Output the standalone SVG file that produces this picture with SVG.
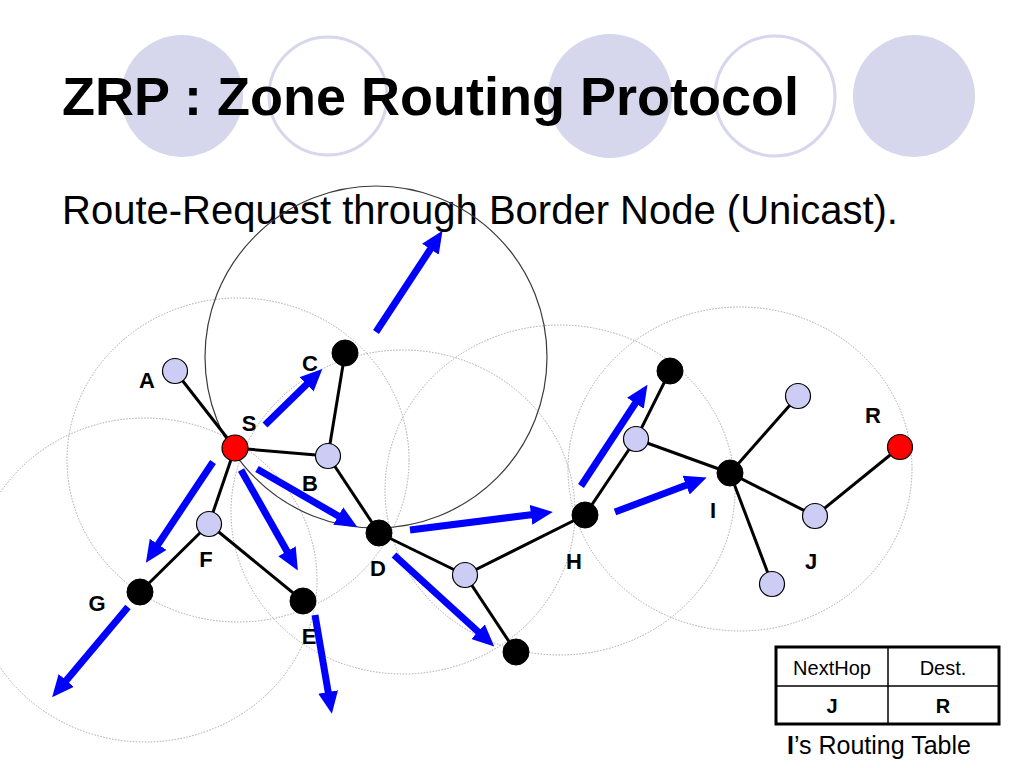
<svg xmlns="http://www.w3.org/2000/svg" width="1024" height="768" viewBox="0 0 1024 768">
<defs>
<style>
.deco-f{fill:#d6d6ec;stroke:none}
.deco-o{fill:none;stroke:#d6d6ec;stroke-width:3}
.title{font-family:"Liberation Sans",Arial,sans-serif;font-weight:bold;font-size:54px;fill:#000}
.sub{font-family:"Liberation Sans",Arial,sans-serif;font-size:40px;fill:#000}
.zone{fill:none;stroke:#a8a8a8;stroke-width:1;stroke-dasharray:1.5 1.5}
.zone-on{fill:none;stroke:#3a3a3a;stroke-width:1.2}
.edge{stroke:#000;stroke-width:3;fill:none}
.arrow{stroke:#0000ff;stroke-width:7;fill:none;marker-end:url(#ah)}
.n-light{fill:#ccccf4;stroke:#000;stroke-width:1.2}
.n-black{fill:#000;stroke:#000;stroke-width:1}
.n-red{fill:#ff0000;stroke:#000;stroke-width:1.2}
.lbl{font-family:"Liberation Sans",Arial,sans-serif;font-weight:bold;font-size:22px;fill:#000;text-anchor:middle}
.tb{font-family:"Liberation Sans",Arial,sans-serif;font-size:20px;fill:#000;text-anchor:middle}
.tbb{font-family:"Liberation Sans",Arial,sans-serif;font-size:20px;font-weight:bold;fill:#000;text-anchor:middle}
.cap{font-family:"Liberation Sans",Arial,sans-serif;font-size:25px;fill:#000}
</style>
<marker id="ah" viewBox="0 0 22 20" markerWidth="22" markerHeight="20" refX="2" refY="10" orient="auto" markerUnits="userSpaceOnUse">
<path d="M0,0 L22,10 L0,20 z" fill="#0000ff"/>
</marker>
</defs>
<rect width="1024" height="768" fill="#fff"/>
<g id="decoration">
<circle class="deco-f" cx="182" cy="96" r="61"/>
<circle class="deco-o" cx="328" cy="96" r="59"/>
<circle class="deco-f" cx="610" cy="96" r="62"/>
<circle class="deco-o" cx="775" cy="96" r="60"/>
<circle class="deco-f" cx="914" cy="96" r="61"/>
</g>
<text class="title" x="62" y="115">ZRP : Zone Routing Protocol</text>
<text class="sub" x="62" y="224">Route-Request through Border Node (Unicast).</text>
<g id="zones">
<ellipse class="zone" cx="238" cy="460" rx="171" ry="162"/>
<ellipse class="zone" cx="145" cy="580" rx="172" ry="162"/>
<ellipse class="zone" cx="403" cy="512" rx="172" ry="162"/>
<ellipse class="zone" cx="560" cy="490" rx="175" ry="165"/>
<ellipse class="zone" cx="740" cy="469" rx="172" ry="162"/>
<circle class="zone-on" cx="376" cy="357" r="171"/>
</g>
<g id="connectors">
<line class="edge" x1="175" y1="371" x2="235" y2="448"/>
<line class="edge" x1="235" y1="448" x2="328" y2="456"/>
<line class="edge" x1="328" y1="456" x2="345" y2="353"/>
<line class="edge" x1="328" y1="456" x2="379" y2="533"/>
<line class="edge" x1="235" y1="448" x2="209" y2="524"/>
<line class="edge" x1="209" y1="524" x2="140" y2="592"/>
<line class="edge" x1="209" y1="524" x2="303" y2="601"/>
<line class="edge" x1="379" y1="533" x2="465" y2="575"/>
<line class="edge" x1="465" y1="575" x2="585" y2="515"/>
<line class="edge" x1="465" y1="575" x2="516" y2="652"/>
<line class="edge" x1="585" y1="515" x2="636" y2="439"/>
<line class="edge" x1="636" y1="439" x2="670" y2="371"/>
<line class="edge" x1="636" y1="439" x2="730" y2="473"/>
<line class="edge" x1="730" y1="473" x2="798" y2="396"/>
<line class="edge" x1="730" y1="473" x2="815" y2="516"/>
<line class="edge" x1="730" y1="473" x2="772" y2="584"/>
<line class="edge" x1="815" y1="516" x2="900" y2="447"/>
<line class="arrow" x1="265" y1="425" x2="308" y2="383"/>
<line class="arrow" x1="213" y1="462" x2="157" y2="546"/>
<line class="arrow" x1="241" y1="470" x2="288" y2="553"/>
<line class="arrow" x1="257" y1="469" x2="340" y2="517"/>
<line class="arrow" x1="128" y1="607" x2="65" y2="682"/>
<line class="arrow" x1="315" y1="615" x2="328.5" y2="694"/>
<line class="arrow" x1="376" y1="332" x2="431.5" y2="247.5"/>
<line class="arrow" x1="410" y1="530" x2="533" y2="514.5"/>
<line class="arrow" x1="394" y1="555" x2="479.5" y2="633"/>
<line class="arrow" x1="581" y1="486" x2="636.5" y2="401.5"/>
<line class="arrow" x1="615" y1="512" x2="688" y2="484.5"/>
</g>
<g id="node-A"><circle class="n-light" cx="175" cy="371" r="12.5"/><text class="lbl" x="147" y="388">A</text></g>
<g id="node-S"><circle class="n-red" cx="235" cy="448" r="13"/><text class="lbl" x="249" y="431">S</text></g>
<g id="node-C"><circle class="n-black" cx="345" cy="353" r="13"/><text class="lbl" x="310" y="371">C</text></g>
<g id="node-B"><circle class="n-light" cx="328" cy="456" r="12.5"/><text class="lbl" x="310" y="491">B</text></g>
<g id="node-F"><circle class="n-light" cx="209" cy="524" r="12.5"/><text class="lbl" x="206" y="567">F</text></g>
<g id="node-G"><circle class="n-black" cx="140" cy="592" r="13"/><text class="lbl" x="97" y="611">G</text></g>
<g id="node-E"><circle class="n-black" cx="303" cy="601" r="13"/><text class="lbl" x="309" y="644">E</text></g>
<g id="node-D"><circle class="n-black" cx="379" cy="533" r="13"/><text class="lbl" x="378" y="576">D</text></g>
<g id="node-DH"><circle class="n-light" cx="465" cy="575" r="12.5"/></g>
<g id="node-DB"><circle class="n-black" cx="516" cy="652" r="13"/></g>
<g id="node-H"><circle class="n-black" cx="585" cy="515" r="13"/><text class="lbl" x="574" y="569">H</text></g>
<g id="node-HI"><circle class="n-light" cx="636" cy="439" r="12.5"/></g>
<g id="node-HT"><circle class="n-black" cx="670" cy="371" r="13"/></g>
<g id="node-I"><circle class="n-black" cx="730" cy="473" r="13"/><text class="lbl" x="713" y="518">I</text></g>
<g id="node-IT"><circle class="n-light" cx="798" cy="396" r="12.5"/></g>
<g id="node-J"><circle class="n-light" cx="815" cy="516" r="12.5"/><text class="lbl" x="811" y="569">J</text></g>
<g id="node-IB"><circle class="n-light" cx="772" cy="584" r="12.5"/></g>
<g id="node-R"><circle class="n-red" cx="900" cy="447" r="12.5"/><text class="lbl" x="873" y="423">R</text></g>
<g id="routing-table">
<rect x="776" y="647" width="223" height="77" fill="#fff" stroke="#000" stroke-width="3"/>
<line x1="776" y1="686" x2="999" y2="686" stroke="#000" stroke-width="1.5"/>
<line x1="888" y1="647" x2="888" y2="724" stroke="#000" stroke-width="1.5"/>
<text class="tb" x="832" y="675">NextHop</text>
<text class="tb" x="943" y="675">Dest.</text>
<text class="tbb" x="832" y="713">J</text>
<text class="tbb" x="943" y="713">R</text>
<text class="cap" x="787" y="754"><tspan font-weight="bold">I</tspan>’s Routing Table</text>
</g>
</svg>
